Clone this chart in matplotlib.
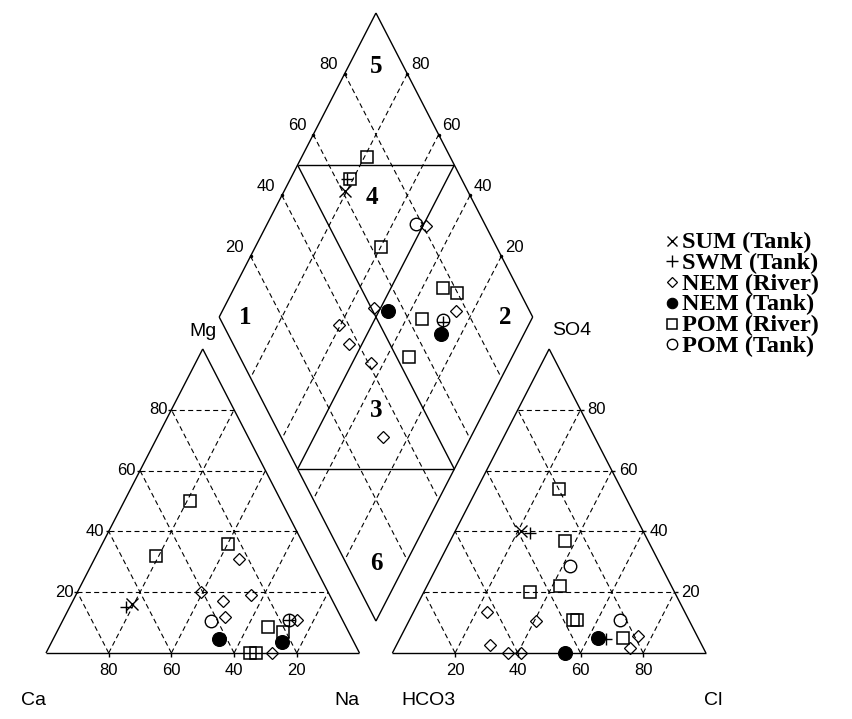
import matplotlib
matplotlib.use('Agg')
import matplotlib.pyplot as plt
from matplotlib.lines import Line2D
import numpy as np

# meq% per sample: cations (Ca, Mg, Na+K), anions (HCO3, SO4, Cl)
sum_tank_cat = [(64.5, 16.0, 19.5)]
sum_tank_an = [(39.0, 40.0, 21.0)]
swm_tank_cat = [(67.0, 15.0, 18.0), (17.0, 11.0, 72.0)]
swm_tank_an = [(36.5, 39.5, 24.0), (29.5, 4.5, 66.0)]
nem_river_cat = [(40.5, 20.0, 39.5), (23.0, 31.0, 46.0), (35.0, 17.0, 48.0),
                 (25.0, 19.0, 56.0), (28.0, 0.0, 72.0), (14.5, 11.0, 74.5),
                 (37.0, 12.0, 51.0)]
nem_river_an = [(63.0, 13.5, 23.5), (63.0, 0.0, 37.0), (49.0, 10.5, 40.5),
                (59.0, 0.0, 41.0), (67.5, 2.5, 30.0), (23.5, 1.5, 75.0),
                (19.0, 5.5, 75.5)]
nem_tank_cat = [(42.5, 4.5, 53.0), (23.0, 3.5, 73.5)]
nem_tank_an = [(45.0, 0.0, 55.0), (32.0, 5.0, 63.0)]
pom_river_cat = [(21.0, 7.0, 72.0), (25.0, 8.5, 66.5), (29.0, 50.0, 21.0),
                 (49.0, 32.0, 19.0), (24.0, 36.0, 40.0), (35.0, 0.0, 65.0),
                 (33.0, 0.0, 67.0)]
pom_river_an = [(20.0, 54.0, 26.0), (24.0, 5.0, 71.0), (26.5, 37.0, 36.5),
                (35.5, 22.0, 42.5), (37.0, 11.0, 52.0), (35.5, 11.0, 53.5),
                (46.0, 20.0, 34.0)]
pom_tank_cat = [(42.0, 10.5, 47.5), (17.0, 11.0, 72.0)]
pom_tank_an = [(22.0, 11.0, 67.0), (29.0, 28.5, 42.5)]

grid_vals = [20, 40, 60, 80]
zone_names = ['1', '2', '3', '4', '5', '6']

GAP = 10.5
H = np.sqrt(3) / 2


def cation_xy(mg, na):
    return na + 0.5 * mg, H * mg


def anion_xy(so4, cl):
    return 100 + GAP + cl + 0.5 * so4, H * so4


def diamond_xy(na, hco3):
    return 100 + GAP / 2 + 0.5 * (na - hco3), H * (200 + GAP - na - hco3)


def seg(ax, p, q, dashed=False):
    ls = (0, (4.5, 3)) if dashed else '-'
    lw = 0.8 if dashed else 1.0
    ax.plot([p[0], q[0]], [p[1], q[1]], color='black', lw=lw, ls=ls,
            solid_capstyle='butt', zorder=1)


fig = plt.figure(figsize=(8.52, 7.19), dpi=100)
ax = fig.add_axes([0, 0, 1, 1])
ax.set_xlim(-14.67, 257.1)
ax.set_ylim(-18.8, 186.0)
ax.axis('off')

sans = 'Liberation Sans'
serif = 'Liberation Serif'

# cation triangle
for p, q in [((0, 0), (0, 100)), ((0, 100), (100, 0)), ((100, 0), (0, 0))]:
    seg(ax, cation_xy(*p), cation_xy(*q))
for v in grid_vals:
    seg(ax, cation_xy(v, 0), cation_xy(v, 100 - v), True)
    seg(ax, cation_xy(0, v), cation_xy(100 - v, v), True)
    seg(ax, cation_xy(0, 100 - v), cation_xy(100 - v, 0), True)
    bx, by = cation_xy(0, v)
    seg(ax, (bx, 0), (bx, -1.2))
    ex, ey = cation_xy(v, 0)
    seg(ax, (ex, ey), (ex - 1.0, ey))
    ax.text(bx, -5.1, str(100 - v), ha='center', va='center', fontsize=12, family=sans)
    ax.text(ex - 1.3, ey, str(v), ha='right', va='center', fontsize=12, family=sans)

# anion triangle
for p, q in [((0, 0), (100, 0)), ((100, 0), (0, 100)), ((0, 100), (0, 0))]:
    seg(ax, anion_xy(*p), anion_xy(*q))
for v in grid_vals:
    seg(ax, anion_xy(v, 0), anion_xy(v, 100 - v), True)
    seg(ax, anion_xy(0, v), anion_xy(100 - v, v), True)
    seg(ax, anion_xy(0, 100 - v), anion_xy(100 - v, 0), True)
    bx, by = anion_xy(0, v)
    seg(ax, (bx, 0), (bx, -1.2))
    ex, ey = anion_xy(v, 100 - v)
    seg(ax, (ex, ey), (ex + 1.0, ey))
    ax.text(bx, -5.1, str(v), ha='center', va='center', fontsize=12, family=sans)
    ax.text(ex + 2.2, ey, str(v), ha='left', va='center', fontsize=12, family=sans)

# diamond
corners = [(100, 100), (0, 100), (0, 0), (100, 0), (100, 100)]
for p, q in zip(corners[:-1], corners[1:]):
    seg(ax, diamond_xy(*p), diamond_xy(*q))
for v in grid_vals:
    seg(ax, diamond_xy(v, 0), diamond_xy(v, 100), True)
    seg(ax, diamond_xy(0, v), diamond_xy(100, v), True)
    lx, ly = diamond_xy(0, 100 - v)
    rx, ry = diamond_xy(100 - v, 0)
    ax.plot([lx, rx], [ly, ry], ls='none', marker='.', ms=3, color='black')
    ax.text(lx - 2.2, ly + 2.6, str(v), ha='right', va='center', fontsize=12, family=sans)
    ax.text(rx + 1.2, ry + 2.6, str(v), ha='left', va='center', fontsize=12, family=sans)
seg(ax, diamond_xy(50, 0), diamond_xy(50, 100))
seg(ax, diamond_xy(0, 50), diamond_xy(100, 50))
seg(ax, diamond_xy(0, 50), diamond_xy(50, 0))
seg(ax, diamond_xy(100, 50), diamond_xy(50, 100))

zone_pos = [(8.25, 91.75), (91.15, 8.85), (65.3, 65.3), (29.15, 31.65),
            (8.85, 8.85), (90.45, 90.45)]
for name, (n, c) in zip(zone_names, zone_pos):
    zx, zy = diamond_xy(n, c)
    ax.text(zx, zy, name, ha='center', va='center', fontsize=18,
            family=serif, weight='bold')

# corner labels
ax.text(-4.1, -13.4, 'Ca', ha='center', va='center', fontsize=14, family=sans)
ax.text(96.0, -13.4, 'Na', ha='center', va='center', fontsize=14, family=sans)
ax.text(50.0, 91.5, 'Mg', ha='center', va='center', fontsize=14, family=sans)
ax.text(121.9, -13.4, 'HCO3', ha='center', va='center', fontsize=14, family=sans)
ax.text(212.8, -13.4, 'Cl', ha='center', va='center', fontsize=14, family=sans)
ax.text(167.8, 92.0, 'SO4', ha='center', va='center', fontsize=14, family=sans)

groups = [
    ('SUM (Tank)', sum_tank_cat, sum_tank_an, dict(marker='x', ms=8, mew=1.0, mfc='none')),
    ('SWM (Tank)', swm_tank_cat, swm_tank_an, dict(marker='+', ms=9, mew=1.0, mfc='none')),
    ('NEM (River)', nem_river_cat, nem_river_an, dict(marker='D', ms=6.3, mew=0.9, mfc='none')),
    ('NEM (Tank)', nem_tank_cat, nem_tank_an, dict(marker='o', ms=10, mew=0.8, mfc='black')),
    ('POM (River)', pom_river_cat, pom_river_an, dict(marker='s', ms=8.5, mew=1.1, mfc='none')),
    ('POM (Tank)', pom_tank_cat, pom_tank_an, dict(marker='o', ms=9, mew=1.0, mfc='none')),
]

for label, cats, ans, style in groups:
    ca, mg, na = np.array(cats, dtype=float).T
    hco3, so4, cl = np.array(ans, dtype=float).T
    pts = [cation_xy(mg, na), anion_xy(so4, cl), diamond_xy(na, hco3)]
    for x, y in pts:
        ax.plot(x, y, ls='none', mec='black', zorder=3, **style)

# legend
legend_ms = {'x': 7.7, '+': 8.5, 'D': 5.0, 'o': 7.5, 's': 7.3}
for i, (label, cats, ans, style) in enumerate(groups):
    yc = 1 - (240.7 + 20.7 * i) / 719
    st = dict(style)
    st['ms'] = legend_ms[st['marker']]
    fig.add_artist(Line2D([671.7 / 852], [yc], ls='none', mec='black',
                          transform=fig.transFigure, **st))
    fig.text(681.5 / 852, yc - 7.5 / 719, label, ha='left', va='baseline',
             fontsize=17.5, family=serif, weight='bold')

fig.savefig('out.png', dpi=100)
